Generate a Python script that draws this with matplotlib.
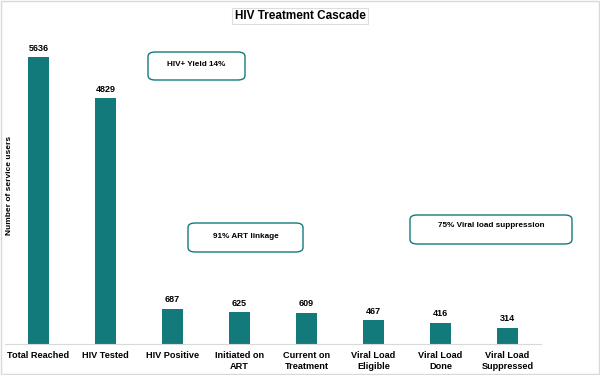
import matplotlib.pyplot as plt
from matplotlib.patches import FancyBboxPatch

stages = [
    "Total Reached", "HIV Tested", "HIV Positive", "Initiated on\nART",
    "Current on\nTreatment", "Viral Load\nEligible", "Viral Load\nDone",
    "Viral Load\nSuppressed",
]
users = [5636, 4829, 687, 625, 609, 467, 416, 314]
notes = ["HIV+ Yield 14%", "91% ART linkage", "75% Viral load suppression"]

TEAL = "#137A7C"

plt.rcParams["font.family"] = ["Liberation Sans", "DejaVu Sans"]

fig = plt.figure(figsize=(6.0, 3.75), dpi=100)
ax = fig.add_axes([5 / 600, 31 / 375, 536 / 600, 309 / 375])

x = list(range(len(stages)))
ax.bar(x, users, width=0.3, color=TEAL)
for xi, v in zip(x, users):
    ax.text(xi, v + 90, str(v), ha="center", va="bottom", fontsize=6.5, fontweight="bold")

ax.set_xlim(-0.5, len(stages) - 0.5)
ax.set_ylim(0, 6070)
ax.set_xticks(x)
ax.set_xticklabels(stages, fontsize=6.6, fontweight="bold", linespacing=1.3)
ax.tick_params(axis="x", length=0, pad=5)
ax.set_yticks([])
for side in ("top", "right", "left"):
    ax.spines[side].set_visible(False)
ax.spines["bottom"].set_color("#d9d9d9")

fig.text(10 / 600, 1 - 185 / 375, "Number of service users", rotation=90, ha="center",
         va="center", fontsize=6.0, fontweight="bold")

fig.text(0.5, 1 - 16 / 375, "HIV Treatment Cascade", ha="center", va="center",
         fontsize=8.5, fontweight="bold",
         bbox=dict(boxstyle="square,pad=0.2", fc="white", ec="#dddddd", lw=0.8))

# annotation boxes (figure pixel coords: x0, y0 top, w, h)
boxes = [(148, 52, 97, 28), (188, 223, 115, 29), (410, 215, 162, 29)]
for (bx, by, bw, bh), label in zip(boxes, notes):
    x0 = bx / 600
    y0 = 1 - (by + bh) / 375
    patch = FancyBboxPatch((x0, y0), bw / 600, bh / 375,
                           boxstyle="round,pad=0,rounding_size=0.012",
                           transform=fig.transFigure, fc="white", ec=TEAL, lw=1.0)
    fig.patches.append(patch)
    ty = y0 + bh / 375 * (0.65 if label.startswith("75") else 0.55)
    fig.text(x0 + bw / 1200, ty, label, ha="center", va="center",
             fontsize=5.9, fontweight="bold")

border = plt.Rectangle((0.002, 0.003), 0.996, 0.994, transform=fig.transFigure,
                       fill=False, ec="#d9d9d9", lw=1.0)
fig.patches.append(border)

fig.savefig("out.png", dpi=100)
